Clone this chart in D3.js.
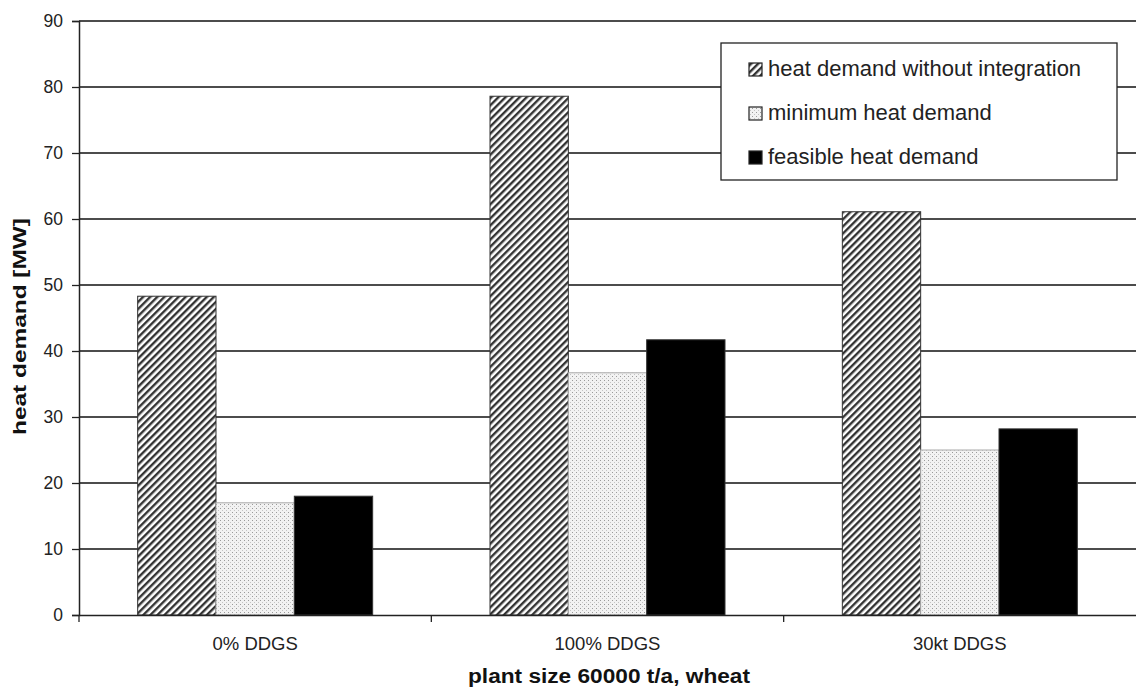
<!DOCTYPE html>
<html><head><meta charset="utf-8">
<script src="https://cdn.jsdelivr.net/npm/d3@7/dist/d3.min.js"></script>
<style>body{margin:0;background:#fff}svg{display:block}text{font-family:"Liberation Sans",Arial,sans-serif}</style>
</head><body><svg id="c" width="1136" height="689"></svg>
<script>
const categories = ["0% DDGS", "100% DDGS", "30kt DDGS"];
const seriesNames = ["heat demand without integration", "minimum heat demand", "feasible heat demand"];
const withoutIntegration = [48.3, 78.6, 61.1];
const minimumDemand = [17.0, 36.7, 25.0];
const feasibleDemand = [18.0, 41.7, 28.2];
const yTicks = [0, 10, 20, 30, 40, 50, 60, 70, 80, 90];
const yTitle = "heat demand [MW]";
const xTitle = "plant size 60000 t/a, wheat";

const svg = d3.select("#c");
const m = {l: 79, r: 0, t: 21, b: 74};
const W = 1136, H = 689;
const x0 = d3.scaleBand().domain(categories).range([m.l, W - m.r]).paddingInner(0).paddingOuter(0);
const y = d3.scaleLinear().domain([0, 90]).range([H - m.b, m.t]);

const defs = svg.append("defs");
const hp = defs.append("pattern").attr("id", "hatch").attr("patternUnits", "userSpaceOnUse")
  .attr("width", 5).attr("height", 5).attr("patternTransform", "rotate(45)");
hp.append("rect").attr("width", 5).attr("height", 5).attr("fill", "#fff");
hp.append("rect").attr("x", 0).attr("width", 2.4).attr("height", 5).attr("fill", "#333");
const dp = defs.append("pattern").attr("id", "dots").attr("patternUnits", "userSpaceOnUse")
  .attr("width", 4).attr("height", 4);
dp.append("rect").attr("width", 4).attr("height", 4).attr("fill", "#f2f2f2");
dp.append("rect").attr("x", 0).attr("y", 0).attr("width", 1).attr("height", 1).attr("fill", "#9a9a9a");
dp.append("rect").attr("x", 2).attr("y", 2).attr("width", 1).attr("height", 1).attr("fill", "#c4c4c4");

const fills = ["url(#hatch)", "url(#dots)", "#000"];
const strokes = ["#333", "#aaa", "#333"];
const series = [withoutIntegration, minimumDemand, feasibleDemand];

// gridlines
svg.append("g").selectAll("line").data(yTicks.filter(d => d > 0)).join("line")
  .attr("x1", m.l).attr("x2", W - m.r).attr("y1", d => y(d)).attr("y2", d => y(d))
  .attr("stroke", "#111").attr("stroke-width", 1.3);

// y axis
const ya = svg.append("g").attr("transform", `translate(${m.l},0)`)
  .call(d3.axisLeft(y).tickValues(yTicks).tickSize(7).tickPadding(9));
ya.select(".domain").attr("stroke", "#222").attr("stroke-width", 1.5);
ya.selectAll(".tick line").attr("stroke", "#222").attr("stroke-width", 1.3);
ya.selectAll("text").attr("font-size", 17.5).attr("fill", "#222").style("font-family", "Liberation Sans, Arial, sans-serif");

// bars
const groupW = 235;
const inner = d3.scaleBand().domain(d3.range(3)).range([0, groupW]);
const g = svg.append("g");
categories.forEach((c, ci) => {
  const gx = x0(c) + (x0.bandwidth() - groupW) / 2;
  series.forEach((s, si) => {
    g.append("rect").attr("x", gx + inner(si)).attr("y", y(s[ci]))
      .attr("width", inner.bandwidth()).attr("height", y(0) - y(s[ci]))
      .attr("fill", fills[si]).attr("stroke", strokes[si]).attr("stroke-width", 1);
  });
});

// x axis
const xa = svg.append("g").attr("transform", `translate(0,${y(0)})`)
  .call(d3.axisBottom(x0).tickSize(0).tickFormat(""));
xa.select(".domain").attr("stroke", "#222").attr("stroke-width", 1.5);
svg.append("g").selectAll("text").data(categories).join("text")
  .attr("x", d => x0(d) + x0.bandwidth() / 2).attr("y", 650).attr("text-anchor", "middle")
  .attr("font-size", 18.5).attr("fill", "#222").text(d => d);
const bounds = categories.map(c => x0(c));
svg.append("g").selectAll("line").data(bounds).join("line")
  .attr("x1", d => d).attr("x2", d => d).attr("y1", y(0)).attr("y2", y(0) + 7)
  .attr("stroke", "#222").attr("stroke-width", 1.3);

// titles
svg.append("text").attr("x", 609).attr("y", 683).attr("text-anchor", "middle")
  .attr("font-size", 20).attr("font-weight", "bold").attr("fill", "#111")
  .attr("textLength", 282).attr("lengthAdjust", "spacingAndGlyphs").text(xTitle);
svg.append("text").attr("transform", `translate(26,${326.5}) rotate(-90)`).attr("text-anchor", "middle")
  .attr("font-size", 19).attr("font-weight", "bold").attr("fill", "#111")
  .attr("textLength", 217).attr("lengthAdjust", "spacingAndGlyphs").text(yTitle);

// legend
const lg = svg.append("g");
lg.append("rect").attr("x", 721).attr("y", 43).attr("width", 396).attr("height", 137)
  .attr("fill", "#fff").attr("stroke", "#222").attr("stroke-width", 1.3);
seriesNames.forEach((n, i) => {
  const by = 76 + i * 44;
  lg.append("rect").attr("x", 749).attr("y", by - 13).attr("width", 13).attr("height", 13)
    .attr("fill", fills[i]).attr("stroke", "#222").attr("stroke-width", 1.2);
  lg.append("text").attr("x", 768).attr("y", by)
    .attr("font-size", 22).attr("fill", "#222").text(n);
});
</script></body></html>
